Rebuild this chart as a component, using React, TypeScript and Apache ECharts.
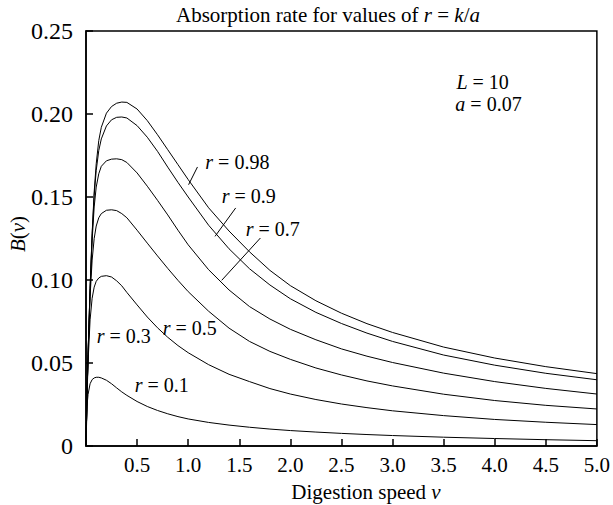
import React, { useEffect, useRef } from 'react';
import * as echarts from 'echarts';

// Digestion speed grid (x values shared by all curves)
const V = [0, 0.01, 0.02, 0.04, 0.06, 0.08, 0.1, 0.125, 0.15, 0.2, 0.25, 0.3, 0.35, 0.4, 0.5, 0.6, 0.7, 0.8, 0.9, 1.0, 1.2, 1.4, 1.6, 1.8, 2.0, 2.25, 2.5, 2.75, 3.0, 3.5, 4.0, 4.5, 5.0];

// B(v) for each r
const B_098 = [0, 0.03, 0.055, 0.095, 0.128, 0.153, 0.17, 0.184, 0.192, 0.2005, 0.2045, 0.2065, 0.2072, 0.207, 0.203, 0.196, 0.1875, 0.1785, 0.1695, 0.1605, 0.1435, 0.1295, 0.117, 0.1058, 0.0966, 0.0875, 0.08, 0.0737, 0.0684, 0.0596, 0.053, 0.0478, 0.0436];
const B_09 = [0, 0.03, 0.055, 0.095, 0.127, 0.151, 0.166, 0.178, 0.185, 0.1928, 0.1965, 0.198, 0.1982, 0.1976, 0.193, 0.186, 0.1775, 0.168, 0.1588, 0.15, 0.133, 0.1188, 0.1068, 0.097, 0.0887, 0.0805, 0.0738, 0.068, 0.063, 0.0548, 0.0487, 0.0438, 0.0399];
const B_07 = [0, 0.03, 0.055, 0.094, 0.124, 0.144, 0.156, 0.164, 0.1685, 0.1718, 0.1728, 0.173, 0.1725, 0.1708, 0.1645, 0.1565, 0.148, 0.1392, 0.13, 0.1212, 0.1062, 0.094, 0.084, 0.0765, 0.0703, 0.064, 0.0585, 0.0541, 0.0503, 0.0439, 0.0388, 0.0347, 0.0313];
const B_05 = [0, 0.03, 0.054, 0.09, 0.112, 0.125, 0.1325, 0.1375, 0.14, 0.142, 0.1423, 0.1418, 0.14, 0.1375, 0.13, 0.1222, 0.1145, 0.107, 0.0998, 0.093, 0.0812, 0.071, 0.063, 0.057, 0.0522, 0.047, 0.0428, 0.0392, 0.0362, 0.0312, 0.0274, 0.0245, 0.0223];
const B_03 = [0, 0.029, 0.05, 0.076, 0.089, 0.0957, 0.0992, 0.1012, 0.1022, 0.1026, 0.1018, 0.0995, 0.0965, 0.0925, 0.085, 0.0777, 0.0712, 0.0655, 0.0605, 0.0562, 0.049, 0.0432, 0.0388, 0.0346, 0.0313, 0.028, 0.0253, 0.0231, 0.0212, 0.0183, 0.016, 0.0143, 0.0129];
const B_01 = [0, 0.024, 0.031, 0.0375, 0.04, 0.041, 0.0414, 0.0414, 0.041, 0.0396, 0.0375, 0.035, 0.0326, 0.0305, 0.0268, 0.0238, 0.0214, 0.0194, 0.0177, 0.0163, 0.0142, 0.0126, 0.0113, 0.0102, 0.0093, 0.0084, 0.0076, 0.0069, 0.0063, 0.0053, 0.0045, 0.0038, 0.0032];

const R_VALUES = ['0.98', '0.9', '0.7', '0.5', '0.3', '0.1'];
const CURVES = [B_098, B_09, B_07, B_05, B_03, B_01];

// Curve labels (data coordinates of left edge / vertical centre)
const LABEL_AT = [[1.168, 0.171], [1.328, 0.1507], [1.564, 0.1309], [0.751, 0.0712], [0.104, 0.0661], [0.476, 0.0369]];
// Leader lines for the three upper labels
const POINTERS = [
  [[1.091, 0.1681], [1.004, 0.1574]],
  [[1.465, 0.1434], [1.263, 0.1263]],
  [[1.707, 0.1253], [1.328, 0.0998]],
];
const PARAMS = [
  { sym: 'L', val: '10', at: [3.625, 0.2194] },
  { sym: 'a', val: '0.07', at: [3.615, 0.2059] },
];

const X_MIN = 0, X_MAX = 5, X_STEP = 0.5;
const Y_MIN = 0, Y_MAX = 0.25, Y_STEP = 0.05;

const FONT = "'Liberation Serif', 'Times New Roman', Times, serif";

export default function App() {
  const ref = useRef<HTMLDivElement>(null);
  useEffect(() => {
    if (!ref.current) return;
    const chart = echarts.init(ref.current, null, { renderer: 'svg' });
    const lineSeries = CURVES.map((vals, i) => ({
      type: 'line',
      name: 'r=' + R_VALUES[i],
      data: V.map((v, j) => [v, vals[j]]),
      showSymbol: false,
      symbol: 'none',
      smooth: false,
      lineStyle: { color: '#000', width: 1 },
      silent: true,
    }));
    const pointerSeries = POINTERS.map((seg) => ({
      type: 'line',
      data: seg,
      symbol: 'none',
      lineStyle: { color: '#000', width: 1 },
      silent: true,
    }));
    chart.setOption({
      animation: false,
      grid: { left: 86, right: 12, top: 31, bottom: 59, show: true, borderColor: '#000', borderWidth: 1.5, backgroundColor: 'transparent' },
      xAxis: {
        type: 'value', min: X_MIN, max: X_MAX, interval: X_STEP,
        axisLine: { show: true, lineStyle: { color: '#000', width: 1.5 } },
        axisTick: { show: true, inside: true, length: 7, lineStyle: { color: '#000', width: 1.5 } },
        axisLabel: { margin: 8, color: '#000', fontSize: 21, fontFamily: FONT, formatter: (v: number) => (v === 0 ? '' : v.toFixed(1)) },
        splitLine: { show: false },
      },
      yAxis: {
        type: 'value', min: Y_MIN, max: Y_MAX, interval: Y_STEP,
        axisLine: { show: true, lineStyle: { color: '#000', width: 1.5 } },
        axisTick: { show: true, inside: true, length: 7, lineStyle: { color: '#000', width: 1.5 } },
        axisLabel: { margin: 13, color: '#000', fontSize: 24, fontFamily: FONT, formatter: (v: number) => (v === 0 ? '0' : v.toFixed(2)) },
        splitLine: { show: false },
      },
      series: [...lineSeries, ...pointerSeries],
    });

    const px = (p: number[]) => chart.convertToPixel({ gridIndex: 0 }, p) as number[];
    const it = { i: { fontStyle: 'italic', fontSize: 20, fontFamily: FONT, fill: '#000' } };
    const graphics: any[] = [];
    R_VALUES.forEach((r, i) => {
      const [x, y] = px(LABEL_AT[i]);
      graphics.push({
        type: 'text', x, y, silent: true,
        style: { text: '{i|r} = ' + r, fontSize: 20, fontFamily: FONT, fill: '#000', align: 'left', verticalAlign: 'middle', rich: it },
      });
    });
    PARAMS.forEach((p) => {
      const [x, y] = px(p.at);
      graphics.push({
        type: 'text', x, y, silent: true,
        style: { text: '{i|' + p.sym + '} = ' + p.val, fontSize: 20, fontFamily: FONT, fill: '#000', align: 'left', verticalAlign: 'middle', rich: it },
      });
    });
    const itT = { i: { fontStyle: 'italic', fontSize: 21, fontFamily: FONT, fill: '#000' } };
    graphics.push({
      type: 'text', x: 328, y: 15, silent: true,
      style: { text: 'Absorption rate for values of {i|r} = {i|k}/{i|a}', fontSize: 21, fontFamily: FONT, fill: '#000', align: 'center', verticalAlign: 'middle', rich: itT },
    });
    graphics.push({
      type: 'text', x: 366, y: 492, silent: true,
      style: { text: 'Digestion speed {i|v}', fontSize: 21, fontFamily: FONT, fill: '#000', align: 'center', verticalAlign: 'middle', rich: itT },
    });
    graphics.push({
      type: 'text', x: 18, y: 234, rotation: Math.PI / 2, silent: true,
      style: { text: '{i|B}({i|v})', fontSize: 21, fontFamily: FONT, fill: '#000', align: 'center', verticalAlign: 'middle', rich: itT },
    });
    chart.setOption({ graphic: graphics });
    return () => chart.dispose();
  }, []);
  return <div ref={ref} style={{ position: 'absolute', left: 0, top: 0, width: 613, height: 505, background: '#fff' }} />;
}
